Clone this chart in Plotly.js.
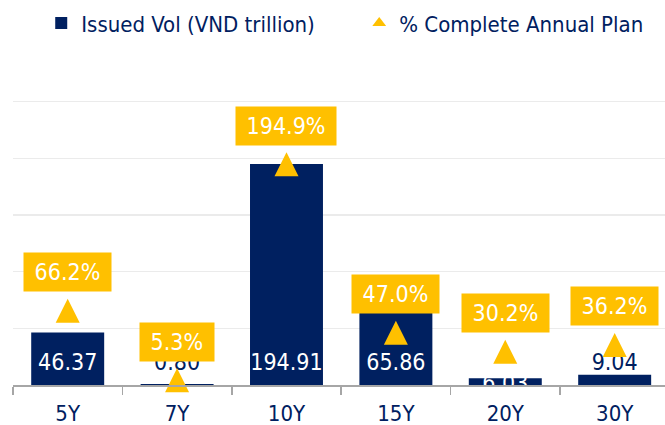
<!DOCTYPE html>
<html>
<head>
<meta charset="utf-8">
<script src="https://cdn.plot.ly/plotly-3.0.1.min.js"></script>
<style>
  html, body { margin: 0; padding: 0; background: #ffffff; }
  #chart { width: 665px; height: 425px; }
</style>
</head>
<body>
<div id="chart"></div>
<script>
// ---- data ----
const categories = ['5Y', '7Y', '10Y', '15Y', '20Y', '30Y'];
const issuedVol = [46.37, 0.80, 194.91, 65.86, 6.03, 9.04];
const pctComplete = [66.2, 5.3, 194.9, 47.0, 30.2, 36.2];
const seriesNames = ['Issued Vol (VND trillion)', '% Complete Annual Plan'];

// ---- styles ----
const NAVY = '#002060';
const GOLD = '#FFC000';
const FONT = '"DejaVu Sans Condensed", "DejaVu Sans", sans-serif';

const plotTop = 98, plotBottom = 385;
const pxPerUnit = 1.1333;                       // 50 units = 56.7 px
const yRange = [0, (plotBottom - plotTop) / pxPerUnit];
const pxPerPct = 1.1387;
const y2Lo = -10.8 / pxPerPct;
const y2Range = [y2Lo, y2Lo + (plotBottom - plotTop) / pxPerPct];

// value labels inside the base of the bars
const labelY = issuedVol.map((v, i) => (i === 4 ? 0.05 : 21 / pxPerUnit));
const labelColor = issuedVol.map((v, i) => (v > 20 || i === 4) ? '#FFFFFF' : NAVY);

const barTrace = {
  type: 'bar',
  name: seriesNames[0],
  x: categories,
  y: issuedVol,
  width: 0.667,
  marker: { color: NAVY },
  hoverinfo: 'skip',
  showlegend: true
};

const barLabels = {
  type: 'scatter',
  mode: 'text',
  x: categories,
  y: labelY,
  text: issuedVol.map(v => v.toFixed(2)),
  textposition: 'middle center',
  textfont: { family: FONT, size: 23, color: labelColor },
  cliponaxis: false,
  showlegend: false,
  hoverinfo: 'skip'
};

const pctTrace = {
  type: 'scatter',
  mode: 'markers',
  name: seriesNames[1],
  x: categories,
  y: pctComplete,
  yaxis: 'y2',
  marker: { symbol: 'arrow-up', size: 24, color: GOLD, line: { width: 0 } },
  cliponaxis: false,
  showlegend: false,
  hoverinfo: 'skip'
};

// legend entry for the percentage series
const pctLegend = {
  type: 'scatter',
  mode: 'markers',
  name: seriesNames[1],
  x: [null],
  y: [null],
  yaxis: 'y2',
  marker: { symbol: 'triangle-up', size: 12, color: GOLD },
  showlegend: true,
  hoverinfo: 'skip'
};

const annotations = pctComplete.map((p, i) => ({
  x: categories[i],
  y: p,
  xref: 'x',
  yref: 'y2',
  text: '\u00a0' + p.toFixed(1) + '%\u00a0',
  showarrow: false,
  xanchor: 'center',
  yanchor: 'middle',
  yshift: 26.5,
  height: 30,
  valign: 'middle',
  bgcolor: GOLD,
  borderpad: 4,
  font: { family: FONT, size: 23, color: '#FFFFFF' }
}));

const layout = {
  width: 665,
  height: 425,
  margin: { l: 12.5, r: 0, t: plotTop, b: 425 - plotBottom, pad: 0 },
  paper_bgcolor: '#FFFFFF',
  plot_bgcolor: '#FFFFFF',
  font: { family: FONT, color: NAVY },
  showlegend: true,
  legend: {
    orientation: 'h',
    xref: 'container',
    yref: 'container',
    x: 0.062,
    xanchor: 'left',
    y: 0.995,
    yanchor: 'top',
    font: { family: FONT, size: 22, color: NAVY },
    entrywidth: 273,
    bgcolor: 'rgba(0,0,0,0)',
    itemclick: false
  },
  xaxis: {
    type: 'category',
    range: [-0.5, 5.46],
    showline: true,
    linecolor: '#A6A6A6',
    linewidth: 1.5,
    ticks: 'outside',
    tickson: 'boundaries',
    ticklen: 8,
    tickwidth: 1.5,
    tickcolor: '#A6A6A6',
    showgrid: false,
    zeroline: false,
    tickfont: { family: FONT, size: 22, color: NAVY },
    ticklabelstandoff: 8
  },
  yaxis: {
    range: yRange,
    dtick: 50,
    showgrid: true,
    gridcolor: '#EBEBEB',
    gridwidth: 1.2,
    showticklabels: false,
    showline: false,
    zeroline: false,
    ticks: ''
  },
  yaxis2: {
    range: y2Range,
    overlaying: 'y',
    side: 'right',
    showgrid: false,
    showticklabels: false,
    showline: false,
    zeroline: false,
    ticks: ''
  },
  annotations: annotations
};

Plotly.newPlot('chart', [barTrace, barLabels, pctTrace, pctLegend], layout, { staticPlot: true, displayModeBar: false });
</script>
</body>
</html>
